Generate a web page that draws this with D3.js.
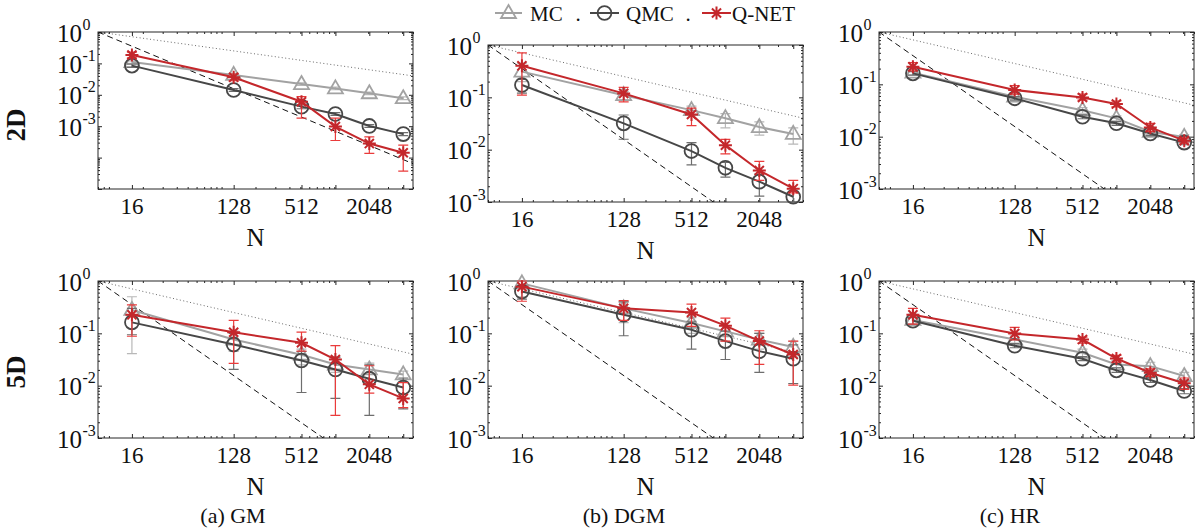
<!DOCTYPE html>
<html>
<head>
<meta charset="utf-8">
<script src="https://cdn.jsdelivr.net/npm/d3@7"></script>
<style>
  body { margin: 0; background: #fff; }
  text { font-family: "Liberation Serif", "Times New Roman", serif; fill: #111; }
</style>
</head>
<body>
<script>
// sample sizes and tick labels
const Ns = [16, 128, 512, 1024, 2048, 4096];
const xTickVals = [16, 128, 512, 1024, 2048, 4096];
const xTickLabels = ["16", "128", "512", "", "2048", ""];
const yTickExps = [0, -1, -2, -3];
const captions = ["(a) GM", "(b) DGM", "(c) HR"];
const rowLabels = ["2D", "5D"];
const seriesNames = ["MC", "QMC", "Q-NET"];
// reference rates N^-1.5 (dashed) and N^-0.5 (dotted), anchored at N=8, err=1
const refN0 = 8;
const refRates = [-1.5, -0.5];

// panels in order: GM 2D, DGM 2D, HR 2D, GM 5D, DGM 5D, HR 5D
const yMins = [1e-5, 1e-3, 1e-3, 1e-3, 1e-3, 1e-3];

const mcMean = [
  [0.11, 0.043, 0.022, 0.016, 0.0112, 0.0078],
  [0.31, 0.11, 0.057, 0.04, 0.027, 0.02],
  [0.167, 0.058, 0.032, 0.0224, 0.0124, 0.0099],
  [0.28, 0.076, 0.039, 0.0254, 0.0204, 0.0164],
  [0.9, 0.30, 0.158, 0.109, 0.076, 0.055],
  [0.18, 0.076, 0.0425, 0.0255, 0.0236, 0.0153]
];
const mcLo = [
  [0.1, 0.038, 0.02, 0.0145, 0.0102, 0.007],
  [0.2, 0.09, 0.046, 0.026, 0.019, 0.0128],
  [0.15, 0.052, 0.028, 0.02, 0.011, 0.0088],
  [0.041, 0.045, 0.025, 0.018, 0.013, 0.012],
  [0.5, 0.16, 0.1, 0.07, 0.05, 0.035],
  [0.14, 0.065, 0.036, 0.022, 0.02, 0.013]
];
const mcHi = [
  [0.12, 0.048, 0.024, 0.0175, 0.0122, 0.0086],
  [0.45, 0.13, 0.068, 0.049, 0.034, 0.026],
  [0.19, 0.065, 0.036, 0.025, 0.014, 0.011],
  [0.5, 0.11, 0.05, 0.034, 0.027, 0.019],
  [1.0, 0.4, 0.2, 0.14, 0.1, 0.07],
  [0.23, 0.09, 0.05, 0.03, 0.028, 0.018]
];

const qmcMean = [
  [0.085, 0.0142, 0.0042, 0.00245, 0.00102, 0.00056],
  [0.172, 0.0318, 0.0094, 0.0045, 0.00245, 0.00126],
  [0.162, 0.054, 0.024, 0.018, 0.0115, 0.0077],
  [0.162, 0.061, 0.0303, 0.0204, 0.0136, 0.0092],
  [0.63, 0.226, 0.117, 0.071, 0.0457, 0.0327],
  [0.174, 0.058, 0.0327, 0.0196, 0.0128, 0.0079]
];
const qmcLo = [
  [0.075, 0.0128, 0.0036, 0.0022, 0.00092, 0.0005],
  [0.12, 0.0158, 0.0051, 0.003, 0.0013, 0.001],
  [0.15, 0.05, 0.022, 0.0165, 0.0105, 0.007],
  [0.094, 0.0204, 0.0074, 0.0057, 0.0027, 0.0036],
  [0.45, 0.09, 0.05, 0.0316, 0.018, 0.011],
  [0.15, 0.053, 0.03, 0.018, 0.0115, 0.007]
];
const qmcHi = [
  [0.095, 0.0158, 0.0048, 0.0027, 0.00112, 0.00062],
  [0.22, 0.046, 0.0136, 0.0057, 0.0034, 0.0016],
  [0.175, 0.058, 0.026, 0.0195, 0.0125, 0.0084],
  [0.3, 0.1, 0.045, 0.035, 0.025, 0.014],
  [0.8, 0.4, 0.17, 0.11, 0.1, 0.06],
  [0.2, 0.064, 0.036, 0.022, 0.0142, 0.0088]
];

const qnetMean = [
  [0.185, 0.036, 0.006, 0.00097, 0.00028, 0.000143],
  [0.40, 0.119, 0.047, 0.0122, 0.0040, 0.0018],
  [0.217, 0.078, 0.056, 0.042, 0.015, 0.0084],
  [0.226, 0.105, 0.066, 0.0316, 0.0106, 0.0057],
  [0.78, 0.30, 0.25, 0.14, 0.071, 0.0394],
  [0.226, 0.099, 0.076, 0.033, 0.0177, 0.0111]
];
const qnetLo = [
  [0.15, 0.028, 0.0018, 0.00035, 0.000137, 0.000037],
  [0.11, 0.082, 0.0288, 0.0083, 0.0026, 0.0015],
  [0.18, 0.065, 0.05, 0.037, 0.0125, 0.0075],
  [0.088, 0.0266, 0.0457, 0.0027, 0.0072, 0.0038],
  [0.41, 0.177, 0.136, 0.071, 0.0255, 0.0102],
  [0.15, 0.075, 0.065, 0.028, 0.015, 0.0085]
];
const qnetHi = [
  [0.23, 0.046, 0.0087, 0.0018, 0.00046, 0.00025],
  [0.71, 0.155, 0.062, 0.0157, 0.006, 0.0026],
  [0.26, 0.095, 0.065, 0.048, 0.018, 0.0095],
  [0.35, 0.177, 0.105, 0.058, 0.024, 0.0114],
  [1.0, 0.42, 0.36, 0.196, 0.112, 0.071],
  [0.3, 0.13, 0.085, 0.038, 0.021, 0.014]
];

const width = 1196, height = 530;
const pw = 315, ph = 157;
const colLeft = [98, 488, 879];
const rowTop = [[32, 45, 32], [281, 281, 281]];
const captionX = [233, 624, 1010];

const styles = [
  {color: "#a2a2a2", err: "#b8b8b8", marker: "tri"},
  {color: "#474747", err: "#6e6e6e", marker: "circle"},
  {color: "#c4272b", err: "#ea3b3b", marker: "star"}
];
const means = [mcMean, qmcMean, qnetMean];
const los = [mcLo, qmcLo, qnetLo];
const his = [mcHi, qmcHi, qnetHi];

const svg = d3.select("body").append("svg")
    .attr("width", width)
    .attr("height", height);

function markerPath(type) {
  if (type === "tri") return "M0,-8L7.5,5L-7.5,5Z";
  if (type === "circle") return d3.symbol(d3.symbolCircle, 150)();
  const s = 6.5, d = s * 0.7;
  return `M${-s},0L${s},0M0,${-s}L0,${s}M${-d},${-d}L${d},${d}M${-d},${d}L${d},${-d}`;
}

function drawMarker(g, type, color, cx, cy) {
  g.append("path")
      .attr("d", markerPath(type))
      .attr("transform", `translate(${cx},${cy})`)
      .attr("fill", "none")
      .attr("stroke", color)
      .attr("stroke-width", type === "star" ? 2 : 1.8);
}

function drawPanel(row, col) {
  const k = row * 3 + col;
  const left = colLeft[col], top = rowTop[row][col];
  const g = svg.append("g").attr("transform", `translate(${left},${top})`);

  const x = d3.scaleLog().domain([8, 5000]).range([0, pw]);
  const y = d3.scaleLog().domain([yMins[k], 1]).range([ph, 0]);

  const clipId = "clip" + k;
  g.append("clipPath").attr("id", clipId)
    .append("rect").attr("width", pw).attr("height", ph);

  // ticks, inward on all four sides
  const xMinor = x.ticks().filter(v => !xTickVals.includes(v));
  const yMajor = d3.range(0, Math.round(Math.log10(yMins[k])) - 1, -1).map(e => Math.pow(10, e));
  const yMinor = y.ticks().filter(v => !yMajor.some(m => Math.abs(m - v) / m < 1e-6));

  const axes = [
    [d3.axisBottom(x).tickValues(xTickVals).tickSize(-4), `translate(0,${ph})`],
    [d3.axisBottom(x).tickValues(xMinor).tickSize(-2), `translate(0,${ph})`],
    [d3.axisTop(x).tickValues(xTickVals).tickSize(-4), null],
    [d3.axisTop(x).tickValues(xMinor).tickSize(-2), null],
    [d3.axisLeft(y).tickValues(yMajor).tickSize(-4), null],
    [d3.axisLeft(y).tickValues(yMinor).tickSize(-2), null],
    [d3.axisRight(y).tickValues(yMajor).tickSize(-4), `translate(${pw},0)`],
    [d3.axisRight(y).tickValues(yMinor).tickSize(-2), `translate(${pw},0)`]
  ];
  axes.forEach(([ax, tr]) => {
    const a = g.append("g").call(ax.tickFormat(""));
    if (tr) a.attr("transform", tr);
    a.select(".domain").remove();
    a.selectAll("line").attr("stroke", "#262626");
  });

  g.append("rect")
      .attr("width", pw).attr("height", ph)
      .attr("fill", "none").attr("stroke", "#262626").attr("stroke-width", 1);

  // x tick labels
  xTickVals.forEach((v, i) => {
    if (!xTickLabels[i]) return;
    g.append("text")
        .attr("x", x(v)).attr("y", ph + 17)
        .attr("text-anchor", "middle").attr("dominant-baseline", "central")
        .attr("font-size", 23)
        .text(xTickLabels[i]);
  });

  // y tick labels 10^e
  yTickExps.forEach(e => {
    const yy = y(Math.pow(10, e));
    g.append("text")
        .attr("x", -16).attr("y", yy + 1)
        .attr("text-anchor", "end").attr("dominant-baseline", "central")
        .attr("font-size", 25)
        .text("10");
    g.append("text")
        .attr("x", -15.5).attr("y", yy - 8)
        .attr("text-anchor", "start").attr("dominant-baseline", "central")
        .attr("font-size", 16)
        .text(e === 0 ? "0" : "-" + (-e));
  });

  // x label
  g.append("text")
      .attr("x", pw / 2).attr("y", ph + 48)
      .attr("text-anchor", "middle").attr("dominant-baseline", "central")
      .attr("font-size", 25)
      .text("N");

  // reference rate lines
  const clipped = g.append("g").attr("clip-path", `url(#${clipId})`);
  refRates.forEach((r, i) => {
    const pts = [8, 5000].map(n => [x(n), y(Math.pow(n / refN0, r))]);
    clipped.append("path")
        .attr("d", d3.line()(pts))
        .attr("fill", "none")
        .attr("stroke", i === 0 ? "#111" : "#444")
        .attr("stroke-width", i === 0 ? 1 : 0.8)
        .attr("stroke-dasharray", i === 0 ? "6,4" : "1,2.5");
  });

  // series
  styles.forEach((st, s) => {
    const m = means[s][k], lo = los[s][k], hi = his[s][k];
    const sg = g.append("g");
    Ns.forEach((n, i) => {
      const cx = x(n), y0 = y(lo[i]), y1 = y(hi[i]);
      sg.append("path")
          .attr("d", `M${cx},${y0}L${cx},${y1}M${cx - 5},${y0}L${cx + 5},${y0}M${cx - 5},${y1}L${cx + 5},${y1}`)
          .attr("fill", "none").attr("stroke", st.err).attr("stroke-width", 1.2);
    });
    sg.append("path")
        .attr("d", d3.line().x((d, i) => x(Ns[i])).y(d => y(d))(m))
        .attr("fill", "none").attr("stroke", st.color).attr("stroke-width", 2);
    m.forEach((v, i) => drawMarker(sg, st.marker, st.color, x(Ns[i]), y(v)));
  });
}

for (let r = 0; r < 2; r++) for (let c = 0; c < 3; c++) drawPanel(r, c);

// row labels
[[16, 125], [16, 372]].forEach(([lx, ly], i) => {
  svg.append("text")
      .attr("transform", `translate(${lx},${ly}) rotate(-90)`)
      .attr("text-anchor", "middle").attr("dominant-baseline", "central")
      .attr("font-size", 27).attr("font-weight", "bold")
      .text(rowLabels[i]);
});

// captions
captions.forEach((t, i) => {
  svg.append("text")
      .attr("x", captionX[i]).attr("y", 515)
      .attr("text-anchor", "middle").attr("dominant-baseline", "central")
      .attr("font-size", 22)
      .text(t);
});

// legend
const legendItems = [
  {x1: 495, x2: 522, tx: 530},
  {x1: 590, x2: 619, tx: 626},
  {x1: 702, x2: 731, tx: 732}
];
const lg = svg.append("g");
legendItems.forEach((it, i) => {
  const st = styles[i];
  lg.append("line")
      .attr("x1", it.x1).attr("x2", it.x2).attr("y1", 13).attr("y2", 13)
      .attr("stroke", st.color).attr("stroke-width", 2);
  drawMarker(lg, st.marker, st.color, (it.x1 + it.x2) / 2, 13);
  lg.append("text")
      .attr("x", it.tx).attr("y", 14)
      .attr("dominant-baseline", "central")
      .attr("font-size", 21)
      .text(seriesNames[i]);
});
[578, 688].forEach(dx => {
  lg.append("text")
      .attr("x", dx).attr("y", 14)
      .attr("text-anchor", "middle").attr("dominant-baseline", "central")
      .attr("font-size", 21)
      .text(".");
});
</script>
</body>
</html>
